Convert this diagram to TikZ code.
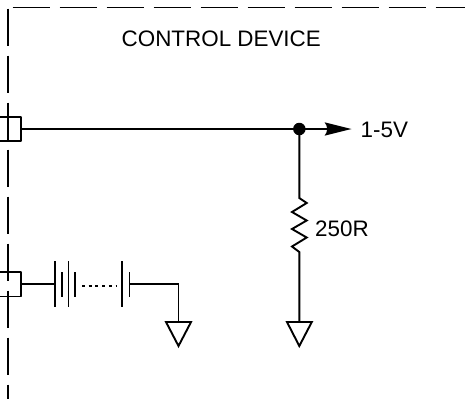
\documentclass[tikz,border=0pt]{standalone}
\usepackage{fontspec}
\setmainfont{Liberation Sans}
\usetikzlibrary{calc}
\tikzset{
  wire/.style={line width=1.9pt,black},
  boundary/.style={line width=1.9pt,black,dash pattern=on 37.5pt off 9.5pt},
  lbl/.style={inner sep=0pt,anchor=base west,font=\fontsize{22.4}{26}\selectfont},
  dotnode/.style={circle,fill=black,draw=none,minimum size=12.5pt,inner sep=0pt},
  groundsym/.style={line width=1.9pt,line join=miter}
}
\begin{document}
\begin{tikzpicture}[x=1pt,y=-1pt]
\useasboundingbox (0,0) rectangle (465,399);
% boundary
\coordinate (tl) at (12.5,7.5);
\coordinate (tr) at (465,7.5);
\coordinate (lt) at (8.3,8.5);
\coordinate (lb) at (8.3,399);
\draw[boundary] (tl) -- (tr);
\draw[boundary] (lt) -- (lb);
% connectors
\coordinate (c1a) at (0,117);
\coordinate (c1b) at (21,117);
\coordinate (c1c) at (21,141);
\coordinate (c1d) at (0,141);
\coordinate (c2a) at (0,272);
\coordinate (c2b) at (21,272);
\coordinate (c2c) at (21,296.5);
\coordinate (c2d) at (0,296.5);
\draw[wire,line join=round] (c1a) -- (c1b) -- (c1c) -- (c1d);
\draw[wire,line join=round] (c2a) -- (c2b) -- (c2c) -- (c2d);
% top wire and junction
\node[dotnode] (junction) at (299.3,129) {};
\coordinate (c1out) at (21,129);
\coordinate (arrowtip) at (351.5,129);
\coordinate (arrowback) at (330,129);
\draw[wire] (c1out) -- (junction.center) -- (arrowback);
\fill[black] (arrowtip) -- (324.5,122.3) .. controls (328,126) and (328,132) .. (324.5,135.7) -- cycle;
\node[lbl] (vout) at (360.5,137) {1-5V};
% resistor
\coordinate (rtop) at (299.3,198);
\coordinate (rbot) at (299.3,252);
\coordinate (g2) at (299.3,322);
\draw[wire,line join=miter] (junction.center) -- (rtop) -- (306.7,203) -- (292,212) -- (306.7,220.5) -- (292,229) -- (306.7,237.5) -- (292,246.5) -- (rbot) -- (g2);
\node[lbl] (rlabel) at (315,236.5) {250R};
\draw[groundsym] (287,322) -- (311.8,322) -- (299.3,346) -- cycle;
% battery
\coordinate (c2out) at (21,284);
\coordinate (b1) at (55,284);
\draw[wire] (c2out) -- (b1);
\draw[wire] (55,261) -- (55,307);
\draw[wire] (62,272) -- (62,297);
\draw[wire] (68.5,261) -- (68.5,307);
\draw[wire] (75,272) -- (75,297);
\draw[line width=2pt,dash pattern=on 2.8pt off 3.9pt] (82,285.5) -- (117,285.5);
\draw[wire] (122,261) -- (122,307);
\draw[wire] (129.5,272) -- (129.5,297);
\coordinate (b2) at (129.5,284);
\coordinate (bend) at (178.5,284);
\coordinate (g1) at (178.5,322);
\draw[wire,line join=miter] (b2) -- (bend) -- (g1);
\draw[groundsym] (166,322) -- (191,322) -- (178.5,346) -- cycle;
% title
\node[lbl] (title) at (121.5,46) {CONTROL DEVICE};
\end{tikzpicture}
\end{document}
